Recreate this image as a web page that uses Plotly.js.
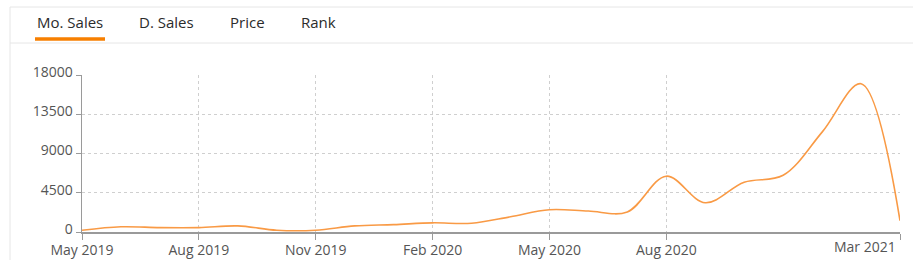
<!DOCTYPE html>
<html><head><meta charset="utf-8">
<script src="https://cdn.plot.ly/plotly-3.0.1.min.js"></script>
<style>html,body{margin:0;padding:0;background:#fff;}#chart{width:913px;height:267px;}</style>
</head><body><div id="chart"></div>
<script>
var monthIndex = [0,1,2,3,4,5,6,7,8,9,10,11,12,13,14,15,16,17,18,19,20,21];
var moSales = [200,600,500,500,700,200,200,700,850,1050,1000,1750,2550,2400,2300,6400,3350,5700,6500,11450,17000,1300];
var tickPos = [0,3,6,9,12,15,21];
var tickLabels = ['May 2019','Aug 2019','Nov 2019','Feb 2020','May 2020','Aug 2020','Mar 2021'];
var yTicks = [0,4500,9000,13500,18000];
var yTickLabels = ['0','4500','9000','13500','18000'];
var tabs = ['Mo. Sales','D. Sales','Price','Rank'];
var tabX = [70,166,247,318];

var W=913,H=267;
function px(x){return x/W;} function py(y){return 1-y/H;}
var FONT='Open Sans, Noto Sans, sans-serif';

var annotations = tabs.map(function(t,i){
  return {text:t,x:px(tabX[i]),y:py(22),xref:'paper',yref:'paper',showarrow:false,
    xanchor:'center',yanchor:'middle',font:{family:FONT,size:15,color:'#2b2b2b'}};
});
var lastIdx = tickPos.length-1;
annotations.push({text:tickLabels[lastIdx],x:tickPos[lastIdx],xref:'x',y:py(246),yref:'paper',
  showarrow:false,xanchor:'right',yanchor:'middle',xshift:-2,font:{family:FONT,size:14,color:'#555'}});
var shownTicks = tickLabels.map(function(t,i){return i===lastIdx?'':t;});

var shapes = [
  {type:'line',xref:'paper',yref:'paper',x0:px(10),x1:px(913),y0:py(7),y1:py(7),line:{color:'#e6e6e6',width:1}},
  {type:'line',xref:'paper',yref:'paper',x0:px(10),x1:px(10),y0:py(7),y1:py(260),line:{color:'#e6e6e6',width:1}},
  {type:'line',xref:'paper',yref:'paper',x0:px(10),x1:px(913),y0:py(43),y1:py(43),line:{color:'#e6e6e6',width:1}},
  {type:'line',xref:'paper',yref:'paper',x0:px(35),x1:px(105),y0:py(39),y1:py(39),line:{color:'#f77f00',width:3.5}}
];

Plotly.newPlot('chart',[{
  x:monthIndex,y:moSales,type:'scatter',mode:'lines',
  line:{color:'#f99a45',width:1.6,shape:'spline',smoothing:1},hoverinfo:'none'
}],{
  width:W,height:H,margin:{l:0,r:0,t:0,b:0},paper_bgcolor:'#fff',plot_bgcolor:'#fff',
  showlegend:false,
  xaxis:{domain:[82/W,900/W],range:[0,21],tickmode:'array',tickvals:tickPos,ticktext:shownTicks,
    showgrid:true,gridcolor:'#cfcfcf',griddash:'3px,3px',gridwidth:1,
    showline:true,linecolor:'#9a9a9a',linewidth:1.5,ticks:'outside',ticklen:6,tickcolor:'#9a9a9a',
    ticklabelstandoff:-1,
    tickfont:{family:FONT,size:14,color:'#555'},zeroline:false,fixedrange:true},
  yaxis:{domain:[(H-232)/H,(H-75)/H],range:[0,18000],tickmode:'array',tickvals:yTicks,ticktext:yTickLabels,
    showgrid:true,gridcolor:'#cfcfcf',griddash:'3px,3px',gridwidth:1,
    showline:true,linecolor:'#9a9a9a',linewidth:1.5,ticks:'outside',ticklen:5,tickcolor:'#9a9a9a',
    ticklabelshift:-3,
    tickfont:{family:FONT,size:14,color:'#555'},zeroline:false,fixedrange:true},
  annotations:annotations,shapes:shapes
},{displayModeBar:false,staticPlot:true});
</script></body></html>
